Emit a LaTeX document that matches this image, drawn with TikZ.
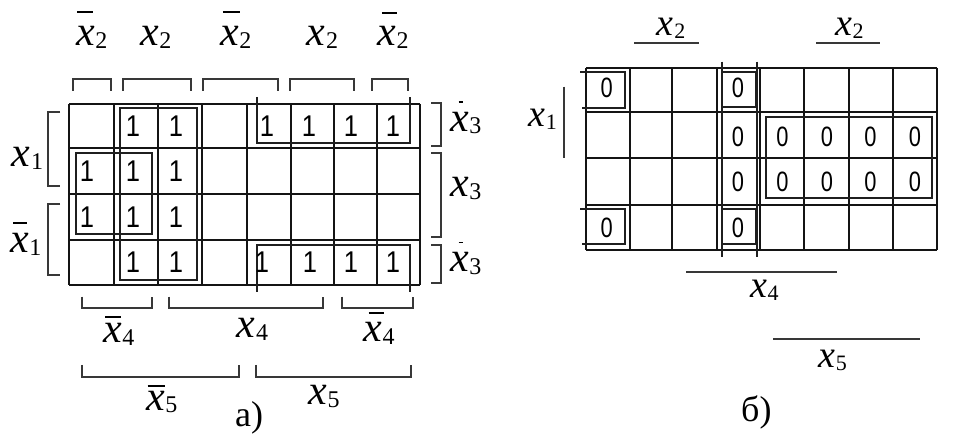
\documentclass[tikz,border=0pt]{standalone}
\usepackage{fontspec}
\setmainfont{Liberation Serif}
\newfontfamily\cellfont{Liberation Sans}
\newcommand{\sx}[1]{\textit{x}\kern0.5pt\raisebox{-2.5pt}{\fontsize{24}{24}\selectfont #1}}
\newcommand{\sxs}[1]{\textit{x}\kern0.5pt\raisebox{-2.3pt}{\fontsize{22}{22}\selectfont #1}}
\newcommand{\bsx}[4]{\makebox[0pt][l]{\hspace*{#2}\rule[#4]{#3}{1.8pt}}\sx{#1}}
\begin{document}
\begin{tikzpicture}[x=1pt,y=-1pt,
  grid/.style={line width=2pt,draw=black!92},
  loop/.style={line width=2pt,draw=black!88},
  brk/.style={line width=2pt,draw=black!78},
  lab/.style={inner sep=0pt,anchor=base west,font=\fontsize{42}{42}\selectfont},
  labs/.style={inner sep=0pt,anchor=base west,font=\fontsize{38}{38}\selectfont},
  captxt/.style={inner sep=0pt,anchor=base west,font=\fontsize{36}{36}\selectfont},
  one/.style={inner sep=0pt,font=\cellfont\fontsize{30}{30}\selectfont},
  zero/.style={inner sep=0pt,font=\cellfont\fontsize{28}{28}\selectfont}]
\useasboundingbox (0,0) rectangle (953,435);
\fill[white] (0,0) rectangle (953,435);
% ---------------- map a) ----------------
\foreach \x in {69.3,114,158.3,202.3,246.7,290.7,334.3,376.7,420}
  \draw[grid] (\x,104) -- (\x,285);
\foreach \y in {104,148.3,194,240,285}
  \draw[grid] (69.3,\y) -- (420,\y);
% loops
\draw[loop] (120,108.3) rectangle (196.7,280);
\draw[loop] (75.7,153.3) rectangle (152.3,234);
\draw[loop] (256.7,97) -- (256.7,143.3) -- (410.3,143.3) -- (410.3,97);
\draw[loop] (256.7,292) -- (256.7,245) -- (410.3,245) -- (410.3,292);
% ones
\foreach \x/\y/\n in {133/126.2/a1, 176/126.2/a2, 267/126.2/a3, 309/126.2/a4, 351/126.2/a5, 393/126.2/a6,
  87/171.2/a7, 133/171.2/a8, 176/171.2/a9,
  87/217/a10, 133/217/a11, 176/217/a12,
  133/262.5/a13, 176/262.5/a14, 262/262.5/a15, 310/262.5/a16, 351/262.5/a17, 393/262.5/a18}
  \node[one] (\n) at (\x,\y) {\scalebox{0.85}[1]{1}};
% top brackets
\foreach \a/\b in {73.3/110.7, 123.3/190.7, 203.3/278.3, 290/354.3, 371.7/408.3}
  \draw[brk] (\a,90.7) -- (\a,79.3) -- (\b,79.3) -- (\b,90.7);
% left brackets
\draw[brk] (60,111.7) -- (48.3,111.7) -- (48.3,186) -- (60,186);
\draw[brk] (60,204.5) -- (48.3,204.5) -- (48.3,275) -- (60,275);
% right brackets
\draw[brk] (431,103.5) -- (440.5,103.5) -- (440.5,146) -- (431,146);
\draw[brk] (431,153.3) -- (440.5,153.3) -- (440.5,236.7) -- (431,236.7);
\draw[brk] (431,245) -- (440.5,245) -- (440.5,283) -- (431,283);
% bottom brackets
\foreach \a/\b in {81.7/152.3, 169.3/322.7, 341.7/412.7}
  \draw[brk] (\a,296.7) -- (\a,308.3) -- (\b,308.3) -- (\b,296.7);
\foreach \a/\b in {81.7/239, 256/410.7}
  \draw[brk] (\a,365) -- (\a,376.7) -- (\b,376.7) -- (\b,365);
% labels
\node[lab] (t1) at (76,46) {\bsx{2}{1pt}{16pt}{33pt}};
\node[lab] (t2) at (140,46) {\sx{2}};
\node[lab] (t3) at (220,46) {\bsx{2}{2.7pt}{16.6pt}{33pt}};
\node[lab] (t4) at (306.7,46) {\sx{2}};
\node[lab] (t5) at (377.3,46) {\bsx{2}{4.4pt}{15pt}{32pt}};
\node[lab] (l1) at (11.7,167) {\sx{1}};
\node[lab] (l2) at (10,253) {\bsx{1}{3pt}{14pt}{29pt}};
\node[lab] (r1) at (450,131.5) {\bsx{3}{8.3pt}{4pt}{28.5pt}};
\node[lab] (r2) at (450,196.7) {\sx{3}};
\node[lab] (r3) at (450,272) {\bsx{3}{8.3pt}{4pt}{28.5pt}};
\node[lab] (b1) at (103,343) {\bsx{4}{2pt}{16pt}{25pt}};
\node[lab] (b2) at (236.7,338) {\sx{4}};
\node[lab] (b3) at (363.3,341.7) {\bsx{4}{5pt}{15pt}{28pt}};
\node[lab] (b4) at (146,410) {\bsx{5}{1.3pt}{17.7pt}{23.5pt}};
\node[lab] (b5) at (308.3,405) {\sx{5}};
\node[captxt] (capa) at (235,426) {a)};
% ---------------- map b) ----------------
\foreach \x in {586,630,672.3,716.7,760,804.3,849,892.7,936.7}
  \draw[grid] (\x,68) -- (\x,250);
\foreach \y in {68,111.7,158.3,204.7,250}
  \draw[grid] (586,\y) -- (936.7,\y);
% loops
\draw[loop] (722,61.7) -- (722,256.7);
\draw[loop] (757,61.7) -- (757,256.7);
\draw[loop] (722,71.7) rectangle (755.5,107.5);
\draw[loop] (722,209.5) rectangle (755.5,244);
\draw[loop] (580,71.7) -- (625,71.7) -- (625,108) -- (582,108);
\draw[loop] (580,209.3) -- (625,209.3) -- (625,244) -- (582,244);
\draw[loop] (766,117.3) rectangle (931.7,198.3);
% zeros
\foreach \x/\y/\n in {606.7/88.3/z1, 738/88.3/z2,
  738/136.7/z3, 782.5/136.7/z4, 827/136.7/z5, 870.5/136.7/z6, 915/136.7/z7,
  738/181.7/z8, 782.5/181.7/z9, 827/181.7/z10, 870.5/181.7/z11, 915/181.7/z12,
  606.7/228.3/z13, 738/228.3/z14}
  \node[zero] (\n) at (\x,\y) {\scalebox{0.78}[1]{0}};
% label lines
\coordinate (u1a) at (634,43.3); \coordinate (u1b) at (699.3,43.3);
\coordinate (u2a) at (816,43.3); \coordinate (u2b) at (880,43.3);
\coordinate (v1a) at (564.3,86.7); \coordinate (v1b) at (564.3,158.3);
\coordinate (w1a) at (686,271.7); \coordinate (w1b) at (837.3,271.7);
\coordinate (w2a) at (773.3,339.3); \coordinate (w2b) at (920,339.3);
\draw[brk] (u1a) -- (u1b);
\draw[brk] (u2a) -- (u2b);
\draw[brk] (v1a) -- (v1b);
\draw[brk] (w1a) -- (w1b);
\draw[brk] (w2a) -- (w2b);
\node[labs] (p1) at (656.7,36) {\sxs{2}};
\node[labs] (p2) at (835,36) {\sxs{2}};
\node[labs] (p3) at (528.3,127) {\sxs{1}};
\node[labs] (p4) at (750,298) {\sxs{4}};
\node[labs] (p5) at (818.3,368) {\sxs{5}};
\node[captxt] (capb) at (741,421) {б)};
\end{tikzpicture}
\end{document}
